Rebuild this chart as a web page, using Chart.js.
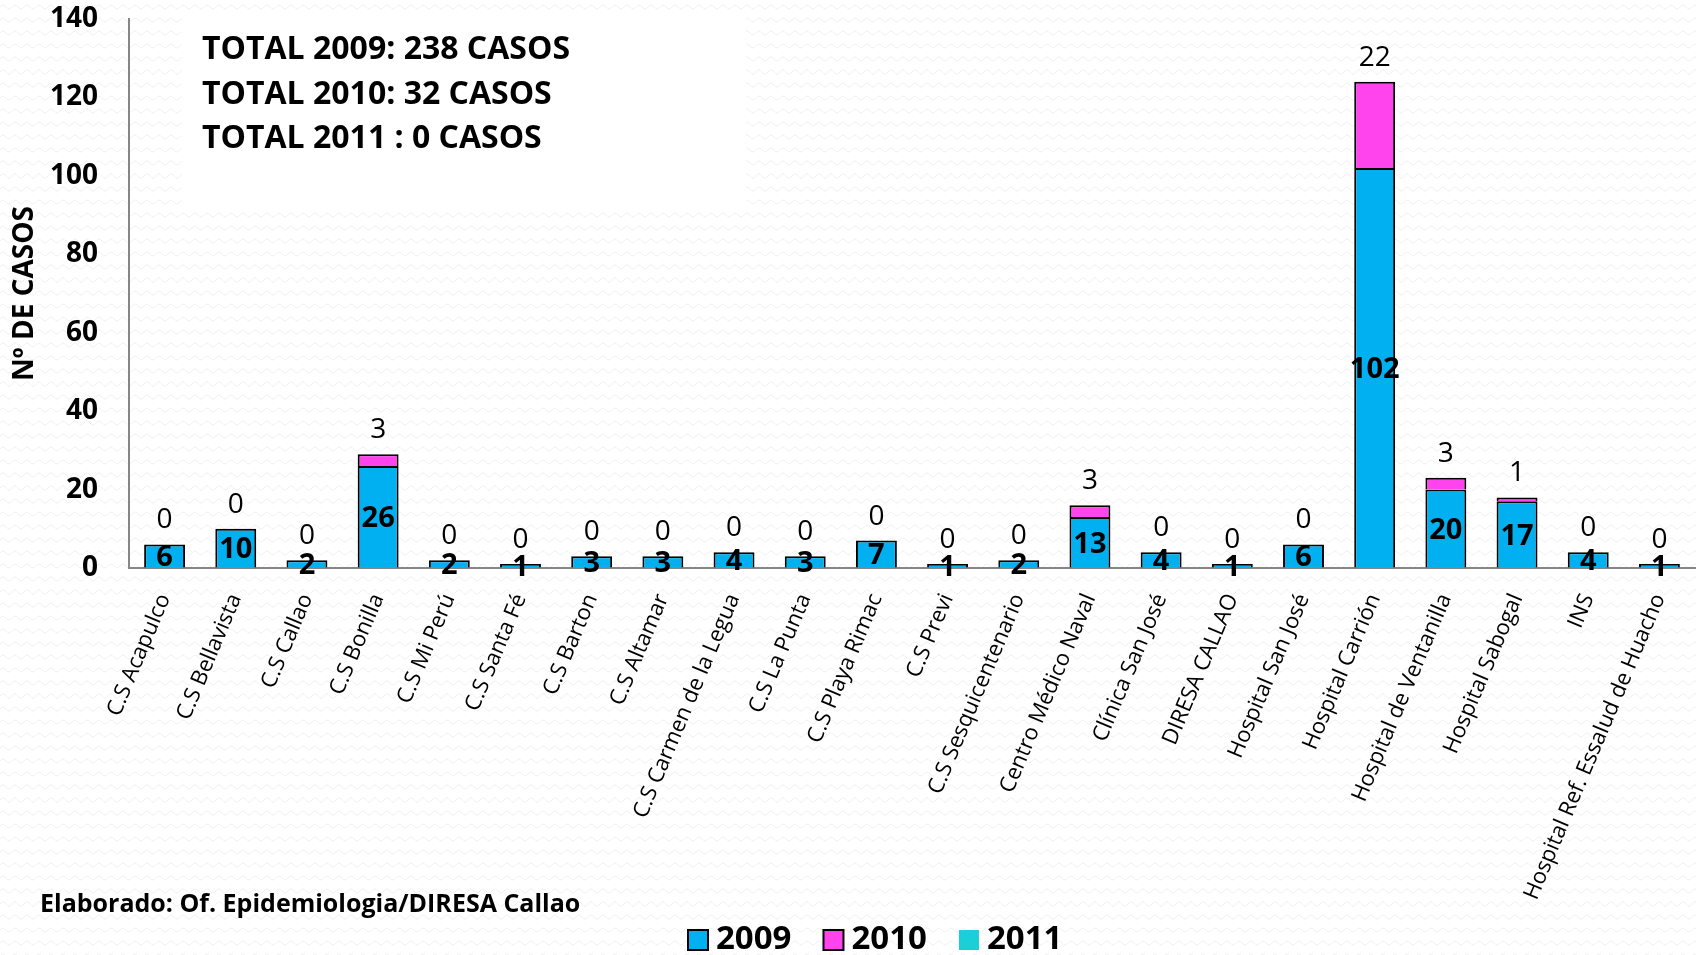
<!DOCTYPE html>
<html>
<head>
<meta charset="utf-8">
<title>Casos por establecimiento</title>
<script src="https://cdn.jsdelivr.net/npm/chart.js@4/dist/chart.umd.min.js"></script>
<style>
  html, body { margin: 0; padding: 0; }
  body {
    width: 1696px; height: 955px; overflow: hidden;
    background: #fff url("data:image/svg+xml,%3Csvg xmlns='http://www.w3.org/2000/svg' width='12' height='13'%3E%3Cpath d='M0 7 Q3 3 6 7 T12 7' fill='none' stroke='%23f0f0f0' stroke-width='1'/%3E%3C/svg%3E") repeat;
  }
  #wrap { width: 1696px; height: 955px; position: relative; }
</style>
</head>
<body>
<div id="wrap"><canvas id="casoschart"></canvas></div>
<script>
const FONT = "'Open Sans', sans-serif";

const establecimientos = [
  'C.S Acapulco', 'C.S Bellavista', 'C.S Callao', 'C.S Bonilla', 'C.S Mi Perú',
  'C.S Santa Fé', 'C.S Barton', 'C.S Altamar', 'C.S Carmen de la Legua', 'C.S La Punta',
  'C.S Playa Rimac', 'C.S Previ', 'C.S Sesquicentenario', 'Centro Médico Naval',
  'Clínica San José', 'DIRESA CALLAO', 'Hospital San José', 'Hospital Carrión',
  'Hospital de Ventanilla', 'Hospital Sabogal', 'INS', 'Hospital Ref. Essalud de Huacho'
];
const casos2009 = [6, 10, 2, 26, 2, 1, 3, 3, 4, 3, 7, 1, 2, 13, 4, 1, 6, 102, 20, 17, 4, 1];
const casos2010 = [0, 0, 0, 3, 0, 0, 0, 0, 0, 0, 0, 0, 0, 3, 0, 0, 0, 22, 3, 1, 0, 0];
const casos2011 = [0, 0, 0, 0, 0, 0, 0, 0, 0, 0, 0, 0, 0, 0, 0, 0, 0, 0, 0, 0, 0, 0];
const totales = ['TOTAL 2009: 238 CASOS', 'TOTAL 2010: 32 CASOS', 'TOTAL 2011 : 0 CASOS'];
const fuente = 'Elaborado: Of. Epidemiologia/DIRESA Callao';

// etiquetas de valores: 2009 dentro de la barra, 2010 encima
const valueLabels = {
  id: 'valueLabels',
  afterDatasetsDraw(chart) {
    const ctx = chart.ctx;
    ctx.save();
    ctx.fillStyle = '#000';
    ctx.textAlign = 'center';
    ctx.textBaseline = 'middle';
    ctx.font = 'bold 29px ' + FONT;
    chart.getDatasetMeta(0).data.forEach((bar, i) => {
      ctx.fillText(casos2009[i], bar.x, (bar.y + bar.base) / 2 + 2);
    });
    ctx.font = '28px ' + FONT;
    chart.getDatasetMeta(1).data.forEach((bar, i) => {
      ctx.fillText(casos2010[i], bar.x, bar.y - 24);
    });
    ctx.restore();
  }
};

// recuadro de totales, fuente y leyenda
const notes = {
  id: 'notes',
  beforeDatasetsDraw(chart) {
    const ctx = chart.ctx;
    ctx.save();
    ctx.fillStyle = '#fff';
    ctx.fillRect(182, 16, 564, 189);
    ctx.fillStyle = '#000';
    ctx.textAlign = 'left';
    ctx.textBaseline = 'middle';
    ctx.font = 'bold 32px ' + FONT;
    totales.forEach((t, i) => ctx.fillText(t, 202, 50 + i * 44.5));
    ctx.restore();
  },
  afterDraw(chart) {
    const ctx = chart.ctx;
    ctx.save();
    ctx.fillStyle = '#000';
    ctx.textAlign = 'left';
    ctx.textBaseline = 'middle';
    ctx.font = 'bold 25px ' + FONT;
    ctx.fillText(fuente, 40, 905);

    // leyenda
    ctx.font = 'bold 33px ' + FONT;
    let x = 688;
    const y = 940;
    chart.data.datasets.forEach(ds => {
      ctx.fillStyle = ds.backgroundColor;
      ctx.fillRect(x, y - 10, 20, 20);
      if (ds.borderWidth) {
        ctx.lineWidth = 2;
        ctx.strokeStyle = ds.borderColor;
        ctx.strokeRect(x, y - 10, 20, 20);
      }
      ctx.fillStyle = '#000';
      ctx.fillText(ds.label, x + 28, y);
      x += 28 + ctx.measureText(ds.label).width + 32;
    });
    ctx.restore();
  }
};

new Chart(document.getElementById('casoschart'), {
  type: 'bar',
  data: {
    labels: establecimientos,
    datasets: [
      {
        label: '2009',
        data: casos2009,
        backgroundColor: '#00B0F0',
        borderColor: '#000',
        borderWidth: 2
      },
      {
        label: '2010',
        data: casos2010,
        backgroundColor: '#FF44EE',
        borderColor: '#000',
        borderWidth: 2
      },
      {
        label: '2011',
        data: casos2011,
        backgroundColor: '#1ACFD8',
        borderColor: '#1ACFD8',
        borderWidth: 0
      }
    ]
  },
  options: {
    responsive: true,
    maintainAspectRatio: false,
    animation: false,
    datasets: {
      bar: { barPercentage: 0.575, categoryPercentage: 1 }
    },
    layout: { padding: { top: 19, right: 1, bottom: 0, left: 0 } },
    scales: {
      x: {
        stacked: true,
        afterFit(scale) { scale.height = 387; },
        grid: { color: 'transparent', drawTicks: true, tickLength: 22 },
        border: { color: '#868686', width: 2 },
        ticks: {
          autoSkip: false,
          minRotation: 67,
          maxRotation: 67,
          padding: 0,
          color: '#000',
          font: { family: FONT, size: 22 }
        }
      },
      y: {
        stacked: true,
        min: 0,
        max: 140,
        afterFit(scale) { scale.width = 129; },
        grid: { color: 'transparent', drawTicks: true, tickLength: 31 },
        border: { color: '#868686', width: 2 },
        ticks: {
          stepSize: 20,
          padding: 0,
          color: '#000',
          font: { family: FONT, size: 28, weight: 'bold' }
        },
        title: {
          display: true,
          text: 'Nº DE CASOS',
          color: '#000',
          padding: { top: 8, bottom: 0 },
          font: { family: FONT, size: 28, weight: 'bold' }
        }
      }
    },
    plugins: {
      legend: { display: false },
      tooltip: { enabled: false }
    }
  },
  plugins: [notes, valueLabels]
});
</script>
</body>
</html>
